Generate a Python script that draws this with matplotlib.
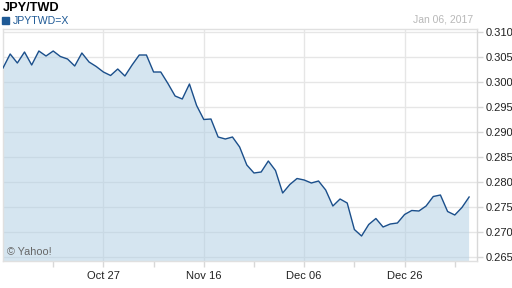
import matplotlib.pyplot as plt
import pandas as pd

plt.rcParams['font.family'] = ['Liberation Sans', 'DejaVu Sans']

title = "JPY/TWD"
series_name = "JPYTWD=X"
last_date = "Jan 06, 2017"

# one value per weekday, Oct 07 2016 .. Jan 06 2017
dates = pd.bdate_range("2016-10-07", "2017-01-06")
rates = [0.3028, 0.3056, 0.3038, 0.3060, 0.3034, 0.3062, 0.3052, 0.3062, 0.3051, 0.3046,
         0.3032, 0.3058, 0.3040, 0.3031, 0.3020, 0.3013, 0.3026, 0.3012, 0.3034, 0.3054,
         0.3054, 0.3020, 0.3020, 0.2997, 0.2972, 0.2966, 0.2996, 0.2953, 0.2925, 0.2926,
         0.2890, 0.2886, 0.2890, 0.2870, 0.2834, 0.2818, 0.2820, 0.2842, 0.2823, 0.2778,
         0.2795, 0.2807, 0.2804, 0.2798, 0.2802, 0.2784, 0.2752, 0.2766, 0.2758, 0.2705,
         0.2692, 0.2715, 0.2727, 0.2710, 0.2716, 0.2718, 0.2735, 0.2743, 0.2742, 0.2752,
         0.2771, 0.2774, 0.2741, 0.2734, 0.2749, 0.2770]
tick_dates = ["2016-10-27", "2016-11-16", "2016-12-06", "2016-12-26"]
minor_dates = ["2016-10-18", "2016-11-07", "2016-11-25", "2016-12-15", "2017-01-04"]
yticks = [0.265, 0.270, 0.275, 0.280, 0.285, 0.290, 0.295, 0.300, 0.305, 0.310]

idx = list(range(len(dates)))
pos = {d.strftime("%Y-%m-%d"): i for i, d in enumerate(dates)}

fig = plt.figure(figsize=(5.12, 2.88), dpi=100)
ax = fig.add_axes([3/512, 1-261/288, 474/512, 232/288])

ax.fill_between(idx, rates, 0.2, color='#adcde3', alpha=0.5, lw=0, zorder=2)
ax.plot(idx, rates, color='#1b4f8b', lw=1.0, zorder=3)

ax.set_xlim(0, 66.1)
ax.set_ylim(0.2642, 0.3106)

ax.yaxis.tick_right()
ax.set_yticks(yticks)
ax.set_yticklabels(["%.3f" % v for v in yticks])
ax.set_xticks([pos[d] for d in tick_dates])
ax.set_xticklabels([pd.Timestamp(d).strftime("%b %d") for d in tick_dates])
ax.set_xticks([pos[d] for d in minor_dates], minor=True)

ax.tick_params(axis='both', which='both', colors='#d8d8d8', labelcolor='#222222',
               labelsize=8, length=4, width=1)
ax.tick_params(axis='x', pad=3)
ax.tick_params(axis='y', pad=2)
ax.grid(True, which='major', color='#e6e6e6', lw=1, zorder=1)
ax.set_axisbelow(True)
for s in ax.spines.values():
    s.set_color('#e0e0e0')
    s.set_linewidth(1)
ax.spines['right'].set_color('#d8d8d8')

fig.text(3/512, 1-8/288, title, fontsize=9.2, fontweight='bold', color='black',
         ha='left', va='center')
fig.patches.append(plt.Rectangle((2/512, 1-24/288), 7/512, 7/288, color='#1f5a96',
                                 transform=fig.transFigure, figure=fig))
fig.text(13/512, 1-20.5/288, series_name, fontsize=7.6, color='#1f5a96',
         ha='left', va='center')
fig.text(473/512, 1-20/288, last_date, fontsize=7.5, color='#b8b8b8',
         ha='right', va='center')
ax.text(4/474, 9/232, "\u00a9 Yahoo!", transform=ax.transAxes, fontsize=7.8,
        color='#666666', ha='left', va='center')

fig.savefig("out.png", dpi=100)
